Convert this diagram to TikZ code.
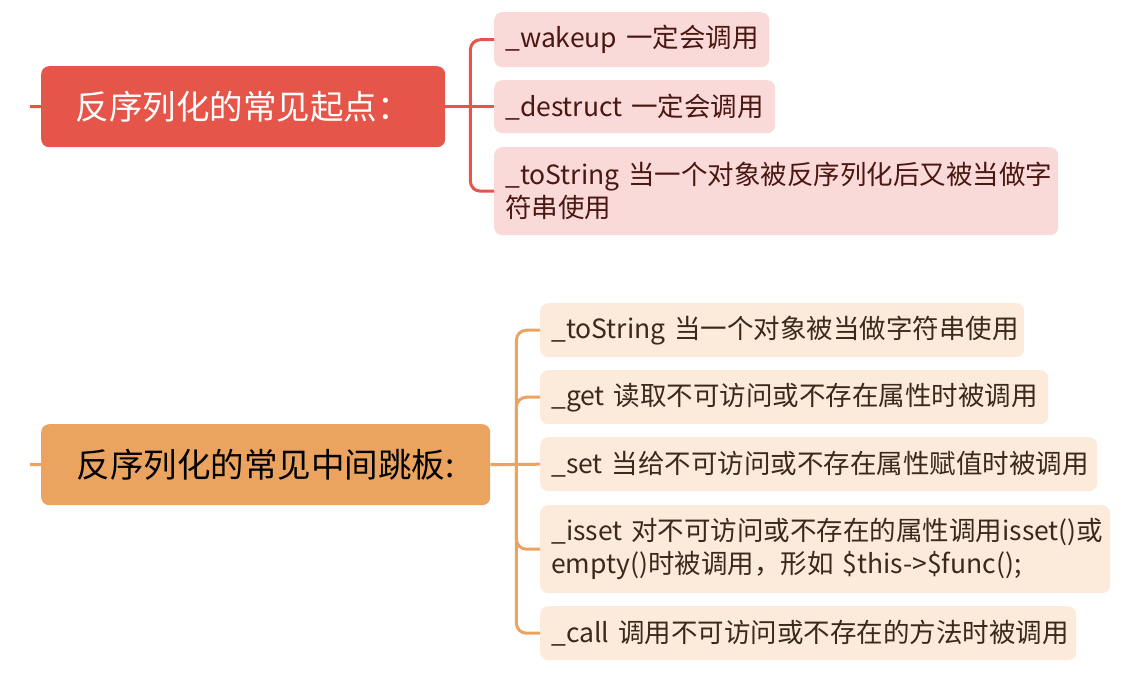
\documentclass[tikz,border=0pt]{standalone}
\usepackage{fontspec}
\setmainfont{Noto Sans CJK SC}
\definecolor{rmain}{HTML}{E5554A}
\definecolor{rchild}{HTML}{F9DAD8}
\definecolor{rtext}{HTML}{4A1712}
\definecolor{omain}{HTML}{EBA45F}
\definecolor{ochild}{HTML}{FCEBDB}
\definecolor{otext}{HTML}{3A2A1C}
\begin{document}
\begin{tikzpicture}[x=1pt,y=-1pt,
  mainbox/.style={rounded corners=8pt, anchor=north west, inner sep=0pt,
    font=\fontsize{33.5}{38}\selectfont},
  childbox/.style={rounded corners=8pt, anchor=north west, inner xsep=11pt,
    inner ysep=0pt, align=left, font=\fontsize{26.5}{33}\selectfont},
  redchild/.style={childbox, fill=rchild, text=rtext},
  orangechild/.style={childbox, fill=ochild, text=otext},
  rconn/.style={draw=rmain, line width=3pt, rounded corners=10pt},
  oconn/.style={draw=omain, line width=3pt, rounded corners=10pt}]
\useasboundingbox (0,0) rectangle (1129,685);

% top group
\node[mainbox, fill=rmain, text=white, minimum width=404pt, minimum height=81pt] (m1) at (41,66) {反序列化的常见起点：};
\node[redchild, text width=253pt, minimum height=55pt] (c1) at (494,12) {\mbox{\_wakeup 一定会调用}};
\node[redchild, text width=259pt, minimum height=53pt] (c2) at (494,80) {\mbox{\_destruct 一定会调用}};
\node[redchild, text width=542pt, minimum height=88pt] (c3) at (494,147) {\mbox{\_toString 当一个对象被反序列化后又被当做字}\\\mbox{符串使用}};

\coordinate (s1) at (30,106.5);
\path (m1.east) ++(25,0) coordinate (t1);
\draw[rconn] (s1) -- (m1.west);
\draw[rconn] (m1.east) -- (c2.west);
\draw[rconn] (t1) |- (c1.west);
\draw[rconn] (t1) |- (c3.west);

% bottom group
\node[mainbox, fill=omain, text=black, minimum width=449pt, minimum height=81pt] (m2) at (41,424) {反序列化的常见中间跳板:};
\node[orangechild, text width=462pt, minimum height=54pt] (d1) at (540,303) {\mbox{\_toString 当一个对象被当做字符串使用}};
\node[orangechild, text width=486pt, minimum height=54pt] (d2) at (540,370) {\mbox{\_get 读取不可访问或不存在属性时被调用}};
\node[orangechild, text width=535pt, minimum height=54pt] (d3) at (540,437) {\mbox{\_set 当给不可访问或不存在属性赋值时被调用}};
\node[orangechild, text width=548pt, minimum height=88pt] (d4) at (540,505) {\mbox{\_isset 对不可访问或不存在的属性调用isset()或}\\\mbox{empty()时被调用，形如 \$this->\$func();}};
\node[orangechild, text width=514pt, minimum height=54pt] (d5) at (540,606) {\mbox{\_call 调用不可访问或不存在的方法时被调用}};

\coordinate (s2) at (30,464.5);
\path (m2.east) ++(26,0) coordinate (t2);
\draw[oconn] (s2) -- (m2.west);
\draw[oconn] (m2.east) -- (d3.west);
\draw[oconn] (t2) |- (d1.west);
\draw[oconn] (t2) |- (d2.west);
\draw[oconn] (t2) |- (d4.west);
\draw[oconn] (t2) |- (d5.west);
\end{tikzpicture}
\end{document}
